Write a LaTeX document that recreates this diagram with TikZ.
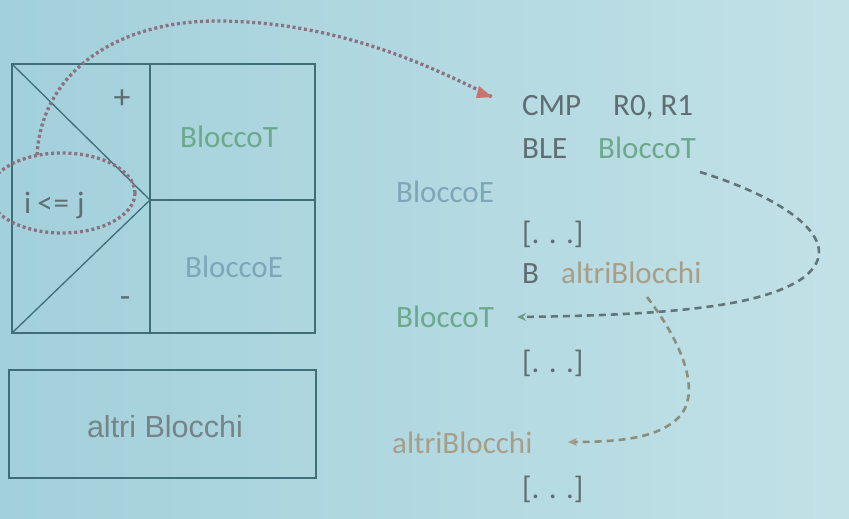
\documentclass[tikz,border=0pt]{standalone}
\usepackage{fontspec}
\setmainfont{Carlito}
\newfontfamily\arialfont{Liberation Sans}
\usetikzlibrary{arrows.meta}
\definecolor{bgA}{HTML}{A2D0DB}
\definecolor{bgB}{HTML}{C2E1E7}
\definecolor{boxline}{HTML}{3F6E78}
\definecolor{codegray}{HTML}{5E6E72}
\definecolor{tgreen}{HTML}{6CA98C}
\definecolor{eblue}{HTML}{7FA6B8}
\definecolor{atan}{HTML}{A89E88}
\definecolor{dotmauve}{HTML}{8A7282}
\definecolor{tipred}{HTML}{C9736E}
\definecolor{dashgray}{HTML}{62757A}
\definecolor{dashtan}{HTML}{8B8E7C}
\tikzset{
  boxlines/.style={draw=boxline, line width=1.3pt},
  code/.style={font=\fontsize{31}{36}\selectfont, anchor=base west, inner sep=0pt, text=codegray},
  lbl/.style={font=\fontsize{31}{36}\selectfont, anchor=base west, inner sep=0pt},
  dotlink/.style={draw=dotmauve, line width=3.3pt, dash pattern=on 3pt off 2.8pt},
  dashlink/.style={line width=2.6pt, dash pattern=on 7pt off 5pt},
}
\begin{document}
\begin{tikzpicture}[x=1pt,y=-1pt]
  % background
  \shade[left color=bgA, right color=bgB] (0,0) rectangle (849,519);
  \useasboundingbox (0,0) rectangle (849,519);

  % decision diagram
  \coordinate (tl) at (12,64);
  \coordinate (bl) at (12,333);
  \coordinate (tm) at (150,64);
  \coordinate (bm) at (150,333);
  \coordinate (mid) at (150,200);
  \coordinate (mr) at (315,200);
  \draw[boxlines] (tl) rectangle (315,333);
  \draw[boxlines] (tm) -- (bm);
  \draw[boxlines] (mid) -- (mr);
  \draw[boxlines] (tl) -- (mid) -- (bl);
  \node[font=\fontsize{34}{36}\selectfont, text=codegray, inner sep=0pt] (plus) at (122,99) {+};
  \node[font=\fontsize{34}{36}\selectfont, text=codegray, inner sep=0pt] (minus) at (125,302) {-};
  \node[lbl, text=codegray] (cond) at (24,213) {i\hspace{6pt}<\hspace{1pt}=\hspace{8pt}j};
  \node[lbl, text=tgreen] (bt) at (180,147) {BloccoT};
  \node[lbl, text=eblue] (be) at (185,277) {BloccoE};

  % other blocks box
  \draw[boxlines] (9,370) rectangle (316,478);
  \node[font=\arialfont\fontsize{30.5}{34}\selectfont, text=codegray!85, inner sep=0pt] (altri) at (165,427) {altri Blocchi};

  % assembly listing
  \node[code] (cmp) at (522,115) {CMP};
  \node[code] (regs) at (613,115) {R0, R1};
  \node[code] (ble) at (522,158) {BLE};
  \node[lbl, text=tgreen] (bletarget) at (598,158) {BloccoT};
  \node[lbl, text=eblue] (labE) at (396,202) {BloccoE};
  \node[code] (dots1) at (522,243) {[. . .]};
  \node[code] (br) at (522,283) {B};
  \node[lbl, text=atan] (brtarget) at (561,283) {altriBlocchi};
  \node[lbl, text=tgreen] (labT) at (396,327) {BloccoT};
  \node[code] (dots2) at (522,372) {[. . .]};
  \node[lbl, text=atan] (labA) at (392,453) {altriBlocchi};
  \node[code] (dots3) at (522,498) {[. . .]};

  % condition highlight and link to the compare instruction
  \draw[dotlink] (62,193) ellipse [x radius=73, y radius=40];
  \coordinate (cmpin) at (494,98);
  \draw[dotlink] (37,155) .. controls (42,70) and (120,20) .. (220,21)
                          .. controls (330,22) and (420,60) .. (cmpin);
  \fill[tipred] (cmpin) ++(-2,-1) -- ++(-13,-11) -- ++(-3,12) -- cycle;

  % branch taken: BLE -> BloccoT
  \coordinate (tEnd) at (517,317);
  \draw[dashlink, draw=dashgray, -{Stealth[length=9pt,width=8pt,color=tgreen!60!gray]}]
    (700,172) .. controls (790,200) and (852,245) .. (800,280)
              .. controls (760,305) and (680,315) .. (tEnd);

  % unconditional branch: B -> altriBlocchi
  \coordinate (aEnd) at (568,442);
  \draw[dashlink, draw=dashtan, -{Stealth[length=9pt,width=8pt,color=atan]}]
    (647,297) .. controls (680,340) and (702,390) .. (680,416)
              .. controls (660,438) and (620,442) .. (aEnd);
\end{tikzpicture}
\end{document}
